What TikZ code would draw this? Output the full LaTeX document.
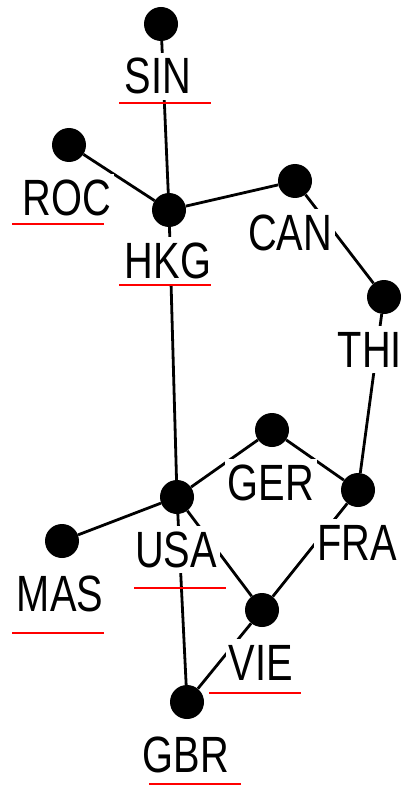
\documentclass[tikz,border=0pt]{standalone}
\usepackage{fontspec}
\newfontfamily\pixfont[FakeStretch=0.78]{Liberation Sans}
\tikzset{
  dot/.style={circle, fill=black, inner sep=0pt, minimum size=34pt},
  tag/.style={fill=white, inner xsep=3pt, inner ysep=6pt, text height=35pt, text depth=0pt,
    anchor=base, font=\pixfont\fontsize{51}{51}\selectfont},
  link/.style={line width=2.8pt},
  uline/.style={red, line width=2.2pt},
}
\begin{document}
\begin{tikzpicture}[x=1pt, y=-1pt]
  \clip (0,0) rectangle (408,786);
  \fill[white] (0,0) rectangle (408,786);
  % countries
  \node[dot] (sin) at (161,24) {};
  \node[dot] (roc) at (69,145) {};
  \node[dot] (hkg) at (169,210) {};
  \node[dot] (can) at (295,181) {};
  \node[dot] (thi) at (384,297) {};
  \node[dot] (ger) at (272,430) {};
  \node[dot] (fra) at (358,490) {};
  \node[dot] (usa) at (177,497) {};
  \node[dot] (mas) at (62,541) {};
  \node[dot] (vie) at (262,610) {};
  \node[dot] (gbr) at (187,702) {};
  % links
  \draw[link] (sin) -- (hkg) (roc) -- (hkg) (hkg) -- (can) (can) -- (thi)
              (thi) -- (fra) (hkg) -- (usa) (usa) -- (ger) (ger) -- (fra)
              (mas) -- (usa) (usa) -- (vie) (fra) -- (vie) (usa) -- (gbr)
              (vie) -- (gbr);
  % names
  \node[tag] (lsin) at (158,94) {SIN};
  \node[tag] (lroc) at (67,215) {ROC};
  \node[tag] (lhkg) at (168,278) {HKG};
  \node[tag] (lcan) at (290,250) {CAN};
  \node[tag, inner xsep=1pt, anchor=base east] (lthi) at (403,367) {THI};
  \node[tag] (lger) at (271,500) {GER};
  \node[tag] (lfra) at (357,560) {FRA};
  \node[tag] (lusa) at (176,567) {USA};
  \node[tag] (lmas) at (60,611) {MAS};
  \node[tag] (lvie) at (261,680) {VIE};
  \node[tag] (lgbr) at (186,772) {GBR};
  % red underlines
  \foreach \x/\y in {165/103, 58/224, 165/285, 180/588, 58/633, 255/693, 195/784}
    \draw[uline] (\x-46,\y) -- (\x+46,\y);
\end{tikzpicture}
\end{document}
